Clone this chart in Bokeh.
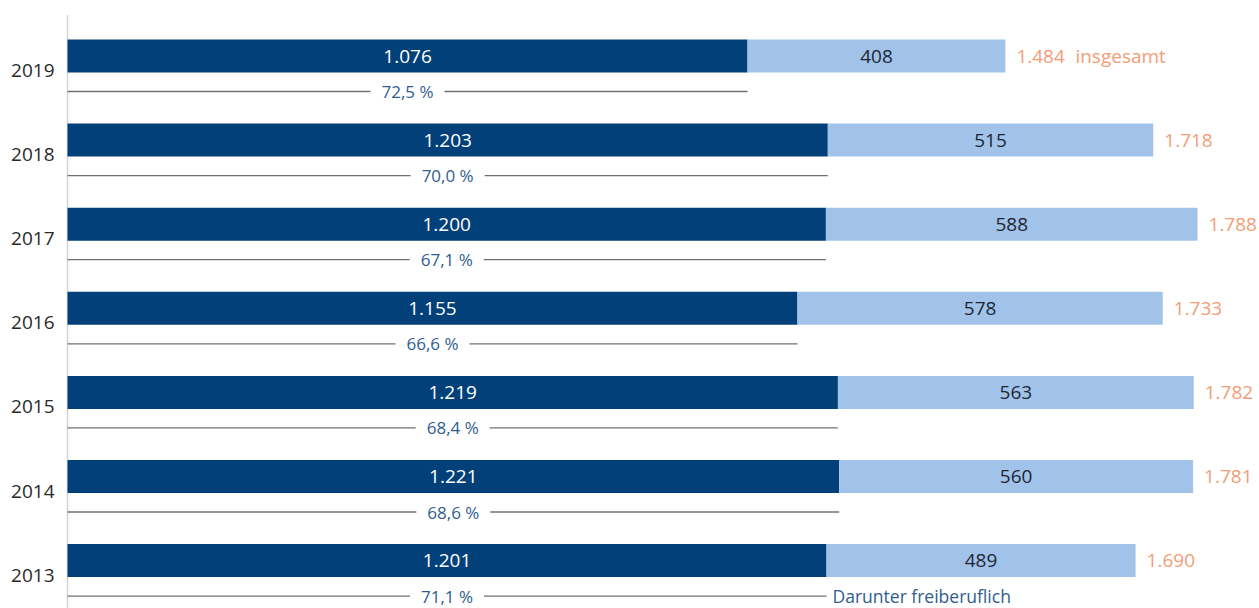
from bokeh.plotting import figure
from bokeh.models import Range1d, ColumnDataSource
from bokeh.core.properties import value
from bokeh.embed import file_html
from bokeh.resources import INLINE

# ---- data ----
years = [2019, 2018, 2017, 2016, 2015, 2014, 2013]
freiberuflich = [1076, 1203, 1200, 1155, 1219, 1221, 1201]
sonstige = [408, 515, 588, 578, 563, 560, 489]
insgesamt = [1484, 1718, 1788, 1733, 1782, 1781, 1690]
anteil = [72.5, 70.0, 67.1, 66.6, 68.4, 68.6, 71.1]
label_total = "insgesamt"
label_frei = "Darunter freiberuflich"

def de_int(v):
    return f"{v:,}".replace(",", ".")

def de_pct(v):
    return f"{v:.1f}".replace(".", ",") + " %"

FONT = value("Open Sans")
DARK = "#024079"
LIGHT = "#a2c3e9"
ORANGE = "#f29d76"
PBLUE = "#2f5d8e"

W, H = 1259, 608
px_per_unit = 0.632
left_px = 67
x0 = -left_px / px_per_unit
x1 = x0 + W / px_per_unit
row_px = 84.1
top_center = 55.5
y_top = years[0] + top_center / row_px
y_bot = years[0] - (H - top_center) / row_px

p = figure(width=W, height=H, output_backend="svg", toolbar_location=None,
           x_range=Range1d(x0, x1), y_range=Range1d(y_bot, y_top),
           min_border=0, outline_line_color=None)
p.xaxis.visible = False
p.yaxis.visible = False
p.grid.visible = False
p.background_fill_color = "white"

bar_h = 33 / row_px
line_dy = 35.5 / row_px
year_dy = 14.5 / row_px
gap = 37 / px_per_unit

src = ColumnDataSource(dict(
    y=years,
    frei=freiberuflich,
    sonst_right=[a + b for a, b in zip(freiberuflich, sonstige)],
    total=insgesamt,
    frei_mid=[a / 2 for a in freiberuflich],
    sonst_mid=[a + b / 2 for a, b in zip(freiberuflich, sonstige)],
    frei_txt=[de_int(v) for v in freiberuflich],
    sonst_txt=[de_int(v) for v in sonstige],
    total_txt=[de_int(v) for v in insgesamt],
    pct_txt=[de_pct(v) for v in anteil],
    year_txt=[str(v) for v in years],
    year_y=[y - year_dy for y in years],
    line_y=[y - line_dy for y in years],
    seg1_end=[a / 2 - gap for a in freiberuflich],
    seg2_start=[a / 2 + gap for a in freiberuflich],
    zero=[0] * len(years),
))

# vertical axis line
p.segment(x0=[0], y0=[y_bot], x1=[0], y1=[years[0] + 41 / row_px],
          line_color="#d4d4d4", line_width=1.5)

# bars
p.hbar(y="y", left=0, right="frei", height=bar_h, source=src,
       fill_color=DARK, line_color=None)
p.hbar(y="y", left="frei", right="sonst_right", height=bar_h, source=src,
       fill_color=LIGHT, line_color=None)

# lines below bars
p.segment(x0="zero", y0="line_y", x1="seg1_end", y1="line_y", source=src,
          line_color="#707070", line_width=1.3)
p.segment(x0="seg2_start", y0="line_y", x1="frei", y1="line_y", source=src,
          line_color="#707070", line_width=1.3)

# texts
p.text(x="frei_mid", y="y", text="frei_txt", source=src, text_font=FONT,
       text_font_size="19px", text_color="white", text_align="center",
       text_baseline="middle")
p.text(x="sonst_mid", y="y", text="sonst_txt", source=src, text_font=FONT,
       text_font_size="19px", text_color="#1c2633", text_align="center",
       text_baseline="middle")
p.text(x="sonst_right", y="y", text="total_txt", source=src, text_font=FONT,
       text_font_size="19px", text_color=ORANGE, text_align="left",
       text_baseline="middle", x_offset=11)
p.text(x="frei_mid", y="line_y", text="pct_txt", source=src, text_font=FONT,
       text_font_size="17px", text_color=PBLUE, text_align="center",
       text_baseline="middle")
p.text(x="zero", y="year_y", text="year_txt", source=src, text_font=FONT,
       text_font_size="19px", text_color="#2a2a2a", text_align="right",
       text_baseline="middle", x_offset=-13)

# annotations
p.text(x=[insgesamt[0]], y=[years[0]], text=[label_total], text_font=FONT,
       text_font_size="19px", text_color=ORANGE, text_align="left",
       text_baseline="middle", x_offset=70)
p.text(x=[freiberuflich[-1]], y=[years[-1] - line_dy], text=[label_frei],
       text_font=FONT, text_font_size="17.5px", text_color=PBLUE,
       text_align="left", text_baseline="middle", x_offset=6)

open("out.html", "w").write(file_html(p, INLINE))
